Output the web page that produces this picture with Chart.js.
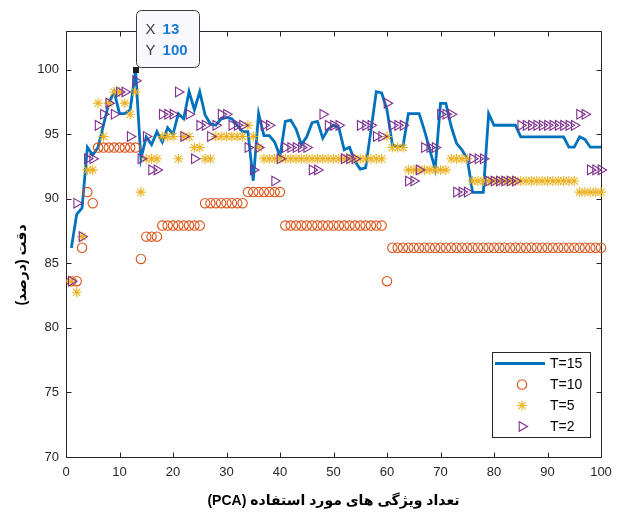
<!DOCTYPE html>
<html>
<head>
<meta charset="utf-8">
<script src="https://cdn.jsdelivr.net/npm/chart.js@4.4.0/dist/chart.umd.min.js"></script>
<style>
  html, body { margin: 0; padding: 0; background: #fff; }
  #chart { display: block; }
</style>
</head>
<body>
<canvas id="chart" width="622" height="516"></canvas>
<script>
// number of PCA features on the x axis
const featureCounts = [
  1, 2, 3, 4, 5, 6, 7, 8, 9, 10, 11, 12, 13, 14, 15, 16, 17, 18, 19, 20,
  21, 22, 23, 24, 25, 26, 27, 28, 29, 30, 31, 32, 33, 34, 35, 36, 37, 38, 39, 40,
  41, 42, 43, 44, 45, 46, 47, 48, 49, 50, 51, 52, 53, 54, 55, 56, 57, 58, 59, 60,
  61, 62, 63, 64, 65, 66, 67, 68, 69, 70, 71, 72, 73, 74, 75, 76, 77, 78, 79, 80,
  81, 82, 83, 84, 85, 86, 87, 88, 89, 90, 91, 92, 93, 94, 95, 96, 97, 98, 99, 100
];

// accuracy (%) per series
const accT15 = [
  86.2, 88.8, 89.3, 94.0, 93.4, 94.0, 95.7, 97.4, 98.3, 96.6,
  96.6, 96.9, 100, 93.1, 94.8, 94.2, 95.2, 94.4, 95.5, 95.0,
  96.6, 96.2, 98.3, 96.9, 98.3, 96.5, 95.8, 95.7, 96.2, 96.3,
  96.2, 95.7, 95.2, 95.2, 91.4, 96.6, 94.9, 94.9, 94.4, 93.3,
  96.0, 96.1, 95.4, 94.2, 94.8, 95.9, 96.0, 94.7, 95.4, 95.7,
  95.5, 93.8, 94.0, 92.9, 92.3, 92.4, 95.3, 98.3, 98.2, 96.9,
  94.2, 94.0, 94.1, 96.6, 96.6, 96.6, 95.3, 93.8, 92.3, 97.4,
  97.4, 95.6, 94.3, 93.8, 93.1, 90.5, 90.5, 90.5, 96.6, 95.7,
  95.7, 95.7, 95.7, 95.7, 94.8, 94.8, 94.8, 94.8, 94.8, 94.8,
  94.8, 94.8, 94.8, 94.0, 94.0, 94.8, 94.6, 94.0, 94.0, 94.0
];

const accT10 = [
  83.62, 83.62, 86.21, 90.52, 89.66, 93.97, 93.97, 93.97, 93.97, 93.97,
  93.97, 93.97, 93.97, 85.34, 87.07, 87.07, 87.07, 87.93, 87.93, 87.93,
  87.93, 87.93, 87.93, 87.93, 87.93, 89.66, 89.66, 89.66, 89.66, 89.66,
  89.66, 89.66, 89.66, 90.52, 90.52, 90.52, 90.52, 90.52, 90.52, 90.52,
  87.93, 87.93, 87.93, 87.93, 87.93, 87.93, 87.93, 87.93, 87.93, 87.93,
  87.93, 87.93, 87.93, 87.93, 87.93, 87.93, 87.93, 87.93, 87.93, 83.62,
  86.21, 86.21, 86.21, 86.21, 86.21, 86.21, 86.21, 86.21, 86.21, 86.21,
  86.21, 86.21, 86.21, 86.21, 86.21, 86.21, 86.21, 86.21, 86.21, 86.21,
  86.21, 86.21, 86.21, 86.21, 86.21, 86.21, 86.21, 86.21, 86.21, 86.21,
  86.21, 86.21, 86.21, 86.21, 86.21, 86.21, 86.21, 86.21, 86.21, 86.21
];

const accT5 = [
  83.62, 82.76, 87.07, 92.24, 92.24, 97.41, 94.83, 97.41, 98.28, 98.28,
  97.41, 96.55, 98.28, 90.52, 93.10, 93.10, 93.10, 94.83, 94.83, 94.83,
  93.10, 94.83, 94.83, 93.97, 93.97, 93.10, 93.10, 94.83, 94.83, 94.83,
  94.83, 94.83, 94.83, 95.69, 94.83, 93.97, 93.10, 93.10, 93.10, 93.10,
  93.10, 93.10, 93.10, 93.10, 93.10, 93.10, 93.10, 93.10, 93.10, 93.10,
  93.10, 93.10, 93.10, 93.10, 93.10, 93.10, 93.10, 93.10, 93.10, 94.83,
  93.97, 93.97, 93.97, 92.24, 92.24, 92.24, 92.24, 92.24, 92.24, 92.24,
  92.24, 93.10, 93.10, 93.10, 93.10, 91.38, 91.38, 91.38, 91.38, 91.38,
  91.38, 91.38, 91.38, 91.38, 91.38, 91.38, 91.38, 91.38, 91.38, 91.38,
  91.38, 91.38, 91.38, 91.38, 91.38, 90.52, 90.52, 90.52, 90.52, 90.52
];

const accT2 = [
  83.62, 89.66, 87.07, 93.10, 93.10, 95.69, 96.55, 97.41, 96.55, 98.28,
  98.28, 94.83, 99.14, 93.10, 94.83, 92.24, 92.24, 96.55, 96.55, 96.55,
  98.28, 94.83, 96.55, 93.10, 95.69, 95.69, 94.83, 95.69, 96.55, 96.55,
  95.69, 95.69, 95.69, 93.97, 92.24, 93.97, 95.69, 95.69, 91.38, 93.10,
  93.97, 93.97, 93.97, 93.97, 93.97, 92.24, 92.24, 96.55, 95.69, 95.69,
  95.69, 93.10, 93.10, 93.10, 95.69, 95.69, 95.69, 94.83, 94.83, 97.41,
  95.69, 95.69, 95.69, 91.38, 91.38, 92.24, 93.97, 93.97, 93.97, 96.55,
  96.55, 96.55, 90.52, 90.52, 90.52, 93.10, 93.10, 93.10, 91.38, 91.38,
  91.38, 91.38, 91.38, 91.38, 95.69, 95.69, 95.69, 95.69, 95.69, 95.69,
  95.69, 95.69, 95.69, 95.69, 95.69, 96.55, 96.55, 92.24, 92.24, 92.24
];

const seriesLabels = ['T=15', 'T=10', 'T=5', 'T=2'];
const xTicks = [0, 10, 20, 30, 40, 50, 60, 70, 80, 90, 100];
const yTicks = [70, 75, 80, 85, 90, 95, 100];
const xTitle = 'تعداد ویژگی های مورد استفاده (PCA)';
const yTitle = 'دقت (درصد)';
const tipIndex = 12; // data tip on T=15 at X 13

const RLE = '\u202B', PDF = '\u202C';
const tickFont = { family: '"Liberation Sans", Arial, sans-serif', size: 13 };
const titleFont = { family: '"Liberation Sans", "DejaVu Sans", sans-serif', size: 14, weight: 'bold' };

function toPoints(vals) {
  return featureCounts.map((x, i) => ({ x, y: vals[i] }));
}

// axes box with inward ticks on all four sides
const framePlugin = {
  id: 'frame',
  beforeDatasetsDraw(chart) {
    const { ctx, chartArea: a, scales: { x, y } } = chart;
    const l = Math.round(a.left) + 0.5, r = Math.round(a.right) + 0.5;
    const t = Math.round(a.top) + 0.5, b = Math.round(a.bottom) + 0.5;
    ctx.save();
    ctx.strokeStyle = '#262626';
    ctx.lineWidth = 1;
    ctx.beginPath();
    ctx.rect(l, t, r - l, b - t);
    xTicks.forEach(v => {
      const px = Math.round(x.getPixelForValue(v)) + 0.5;
      ctx.moveTo(px, b); ctx.lineTo(px, b - 5);
      ctx.moveTo(px, t); ctx.lineTo(px, t + 5);
    });
    yTicks.forEach(v => {
      const py = Math.round(y.getPixelForValue(v)) + 0.5;
      ctx.moveTo(l, py); ctx.lineTo(l + 5, py);
      ctx.moveTo(r, py); ctx.lineTo(r - 5, py);
    });
    ctx.stroke();
    ctx.restore();
  }
};

// rotated y label, sitting a little below the middle of the axis like the original
const yTitlePlugin = {
  id: 'yTitle',
  afterDraw(chart) {
    const { ctx, chartArea: a } = chart;
    ctx.save();
    ctx.translate(22, (a.top + a.bottom) / 2 + 21);
    ctx.rotate(-Math.PI / 2);
    ctx.font = 'bold 14px "Liberation Sans", "DejaVu Sans", sans-serif';
    ctx.fillStyle = '#000';
    ctx.textAlign = 'center';
    ctx.textBaseline = 'middle';
    ctx.fillText(RLE + yTitle + PDF, 0, 0);
    ctx.restore();
  }
};

// boxed legend in the lower right corner
const legendPlugin = {
  id: 'boxLegend',
  afterDraw(chart) {
    const { ctx, chartArea: a } = chart;
    const w = 98, h = 85;
    const left = Math.round(a.right - 11 - w), top = Math.round(a.bottom - 20 - h);
    ctx.save();
    ctx.fillStyle = '#fff';
    ctx.fillRect(left, top, w, h);
    ctx.strokeStyle = '#262626';
    ctx.lineWidth = 1;
    ctx.strokeRect(left + 0.5, top + 0.5, w, h);
    ctx.font = '14px "Liberation Sans", Arial, sans-serif';
    ctx.textBaseline = 'middle';
    chart.data.datasets.forEach((ds, i) => {
      const cy = top + 11.5 + i * 21;
      if (ds.showLine) {
        ctx.strokeStyle = ds.borderColor;
        ctx.lineWidth = ds.borderWidth;
        ctx.beginPath();
        ctx.moveTo(left + 3, cy);
        ctx.lineTo(left + 53, cy);
        ctx.stroke();
      } else {
        ctx.strokeStyle = ds.pointBorderColor;
        ctx.fillStyle = 'rgba(0,0,0,0)';
        ctx.lineWidth = ds.pointBorderWidth;
        Chart.helpers.drawPoint(ctx, {
          pointStyle: ds.pointStyle, rotation: ds.pointRotation || 0,
          radius: ds.pointRadius, borderWidth: ds.pointBorderWidth
        }, left + 30, cy);
      }
      ctx.fillStyle = '#000';
      ctx.fillText(ds.label, left + 58, cy + 1);
    });
    ctx.restore();
  }
};

// MATLAB style data tip on the T=15 peak
const tipPlugin = {
  id: 'dataTip',
  afterDraw(chart) {
    const { ctx, scales: { x, y } } = chart;
    const px = x.getPixelForValue(featureCounts[tipIndex]);
    const py = y.getPixelForValue(accT15[tipIndex]);
    ctx.save();
    ctx.beginPath();
    ctx.roundRect(Math.round(px) + 0.5, Math.round(py - 60) + 0.5, 63, 57, 5);
    ctx.fillStyle = '#f9f9fd';
    ctx.fill();
    ctx.strokeStyle = '#3a3a3a';
    ctx.lineWidth = 1;
    ctx.stroke();
    ctx.fillStyle = '#1e1e1e';
    ctx.fillRect(Math.round(px) - 3, Math.round(py) - 3, 6, 6);
    ctx.textBaseline = 'middle';
    ctx.font = '15px "Liberation Sans", Arial, sans-serif';
    ctx.fillStyle = '#404040';
    ctx.fillText('X', px + 10, py - 40);
    ctx.fillText('Y', px + 10, py - 19);
    ctx.font = 'bold 15px "Liberation Sans", Arial, sans-serif';
    ctx.fillStyle = '#1a7ad6';
    ctx.fillText(String(featureCounts[tipIndex]), px + 27, py - 40);
    ctx.fillText(String(accT15[tipIndex]), px + 27, py - 19);
    ctx.restore();
  }
};

const ctx = document.getElementById('chart');
new Chart(ctx, {
  type: 'scatter',
  data: {
    datasets: [
      {
        label: seriesLabels[0], data: toPoints(accT15), showLine: true,
        borderColor: '#0072BD', backgroundColor: '#0072BD', borderWidth: 2.8,
        pointRadius: 0, tension: 0, order: 4, clip: false
      },
      {
        label: seriesLabels[1], data: toPoints(accT10), pointStyle: 'circle',
        pointRadius: 4.7, pointBorderWidth: 1.1, pointBorderColor: '#D95319',
        pointBackgroundColor: 'rgba(0,0,0,0)', order: 3, clip: false
      },
      {
        label: seriesLabels[2], data: toPoints(accT5), pointStyle: 'star',
        pointRadius: 5, pointBorderWidth: 1.1, pointBorderColor: '#EDB120',
        pointBackgroundColor: 'rgba(0,0,0,0)', order: 2, clip: false
      },
      {
        label: seriesLabels[3], data: toPoints(accT2), pointStyle: 'triangle',
        pointRotation: 90, pointRadius: 5.6, pointBorderWidth: 1.1, pointBorderColor: '#7E2F8E',
        pointBackgroundColor: 'rgba(0,0,0,0)', order: 1, clip: false
      }
    ]
  },
  options: {
    responsive: false,
    animation: false,
    events: [],
    layout: { padding: { top: 31, right: 21, left: 10, bottom: 2 } },
    plugins: { legend: { display: false }, tooltip: { enabled: false } },
    scales: {
      x: {
        type: 'linear', min: 0, max: 100,
        afterBuildTicks: s => { s.ticks = xTicks.map(v => ({ value: v })); },
        afterFit: s => { s.height = 57; },
        grid: { display: false, drawTicks: false }, border: { display: false },
        ticks: { font: tickFont, color: '#262626', padding: 8, maxRotation: 0 },
        title: { display: true, text: RLE + xTitle + PDF, font: titleFont, color: '#000', padding: { top: 4, bottom: 4 } }
      },
      y: {
        type: 'linear', min: 70, max: 103,
        afterBuildTicks: s => { s.ticks = yTicks.map(v => ({ value: v })); },
        afterFit: s => { s.width = 56; },
        grid: { display: false, drawTicks: false }, border: { display: false },
        ticks: { font: tickFont, color: '#262626', padding: 7 },
        title: { display: false }
      }
    }
  },
  plugins: [framePlugin, yTitlePlugin, legendPlugin, tipPlugin]
});
</script>
</body>
</html>
